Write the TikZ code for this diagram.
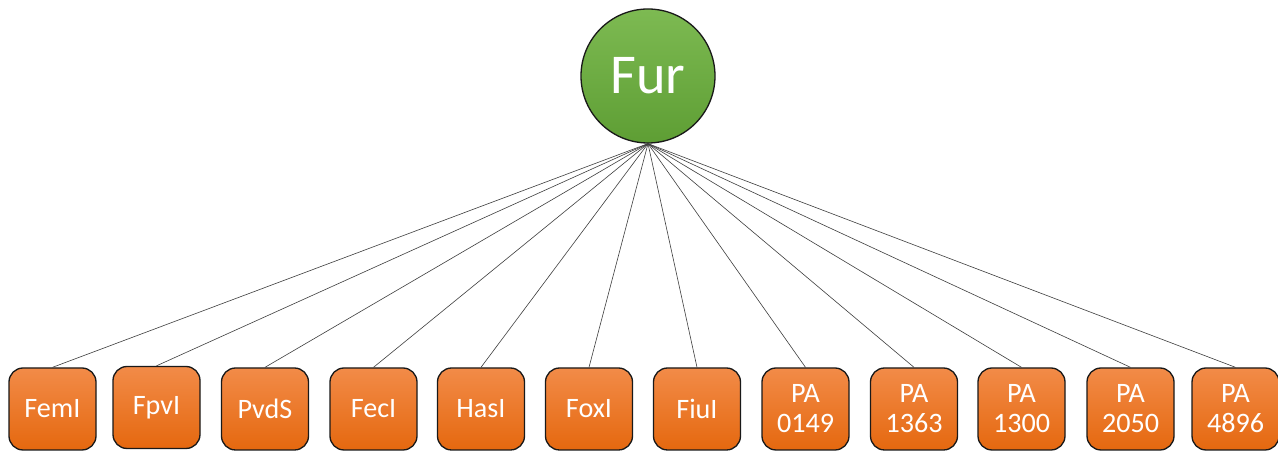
\documentclass[tikz,border=0pt]{standalone}
\usepackage{fontspec}
\setmainfont{Carlito}
\usepackage{xcolor}
\usetikzlibrary{positioning}

\definecolor{geneTop}{HTML}{F28B48}
\definecolor{geneBot}{HTML}{E5680F}
\definecolor{furTop}{HTML}{7DBA52}
\definecolor{furBot}{HTML}{5E9E34}

\tikzset{
    gene/.style={draw=black!90, line width=0.75pt, rounded corners=8pt,
        minimum width=1.74cm, minimum height=1.64cm, inner sep=1pt,
        top color=geneTop, bottom color=geneBot, text=white, align=center,
        font=\fontsize{16}{17}\selectfont},
    hub/.style={circle, draw=black!90, line width=0.75pt, minimum size=2.68cm,
        top color=furTop, bottom color=furBot, text=white,
        font=\fontsize{32}{34}\selectfont},
    link/.style={draw=black!75, line width=0.35pt}
}

\begin{document}
\begin{tikzpicture}
    \useasboundingbox (0,0) rectangle (25.56,9.04);

    \node[hub] (fur) at (12.96,7.52) {Fur};

    % receptor boxes
    \node[gene] (feml) at (1.05,0.86) {FemI};
    \node[gene] (fpvl) at (3.13,0.89) {FpvI};
    \node[gene] (pvds) at (5.30,0.86) {PvdS};
    \node[gene] (fecl) at (7.47,0.86) {FecI};
    \node[gene] (hasl) at (9.62,0.86) {HasI};
    \node[gene] (foxl) at (11.78,0.86) {FoxI};
    \node[gene] (fiul) at (13.94,0.86) {FiuI};
    \node[gene] (pa0149) at (16.11,0.86) {PA\\0149};
    \node[gene] (pa1363) at (18.28,0.86) {PA\\1363};
    \node[gene] (pa1300) at (20.43,0.86) {PA\\1300};
    \node[gene] (pa2050) at (22.61,0.86) {PA\\2050};
    \node[gene] (pa4896) at (24.71,0.86) {PA\\4896};

    \foreach \g in {feml,fpvl,pvds,fecl,hasl,foxl,fiul,pa0149,pa1363,pa1300,pa2050,pa4896}
        \draw[link] (fur.south) -- (\g.north);
\end{tikzpicture}
\end{document}
